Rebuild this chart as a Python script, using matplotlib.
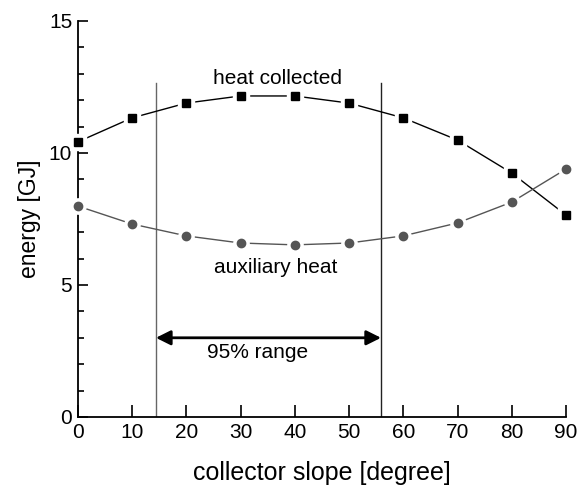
import matplotlib
matplotlib.use("Agg")
import matplotlib.pyplot as plt
from matplotlib.ticker import MultipleLocator

plt.rcParams['font.family'] = ['Liberation Sans', 'DejaVu Sans']

slope = [0, 10, 20, 30, 40, 50, 60, 70, 80, 90]
heat_collected = [10.42, 11.33, 11.89, 12.16, 12.16, 11.89, 11.33, 10.49, 9.24, 7.65]
auxiliary_heat = [7.99, 7.31, 6.86, 6.59, 6.52, 6.59, 6.86, 7.35, 8.14, 9.39]
range_lo, range_hi = 14.4, 55.9
range_top = 12.65
arrow_y = 3.0

fig = plt.figure(figsize=(5.85, 4.88), dpi=100)
ax = fig.add_axes([0.133, 0.1455, 0.8345, 0.8115])

# vertical range lines
ax.plot([range_lo, range_lo], [0, range_top], color='#666666', lw=1.0, zorder=1)
ax.plot([range_hi, range_hi], [0, range_top], color='#222222', lw=1.0, zorder=1)

# curves
ax.plot(slope, heat_collected, color='black', lw=1.0, zorder=2, clip_on=False)
ax.plot(slope, auxiliary_heat, color='#555555', lw=1.0, zorder=2, clip_on=False)
# gaps around markers
ax.plot(slope, heat_collected, ls='none', marker='s', ms=11, mfc='white', mec='white', zorder=3, clip_on=False)
ax.plot(slope, auxiliary_heat, ls='none', marker='o', ms=11, mfc='white', mec='white', zorder=3, clip_on=False)
ax.plot(slope, heat_collected, ls='none', marker='s', ms=5.5, mfc='black', mec='black', zorder=4, clip_on=False)
ax.plot(slope, auxiliary_heat, ls='none', marker='o', ms=6, mfc='#555555', mec='#555555', zorder=4, clip_on=False)

# arrow
ax.annotate('', xy=(range_hi, arrow_y), xytext=(range_lo, arrow_y),
            arrowprops=dict(arrowstyle='<|-|>', color='black', lw=2, mutation_scale=22,
                            shrinkA=0, shrinkB=0), zorder=5)

ax.text(36.9, 12.84, 'heat collected', ha='center', va='center', fontsize=15)
ax.text(36.5, 5.68, 'auxiliary heat', ha='center', va='center', fontsize=15)
ax.text(33.2, 2.46, '95% range', ha='center', va='center', fontsize=15)

ax.set_xlim(0, 90)
ax.set_ylim(0, 15)
ax.set_xticks(range(0, 91, 10))
ax.set_yticks([0, 5, 10, 15])
ax.yaxis.set_minor_locator(MultipleLocator(1))
ax.spines['top'].set_visible(False)
ax.spines['right'].set_visible(False)
for s in ('left', 'bottom'):
    ax.spines[s].set_linewidth(1.3)
ax.tick_params(axis='both', which='major', direction='in', length=7, width=1.2, labelsize=15, pad=4)
ax.tick_params(axis='y', which='minor', direction='in', length=4, width=1.2)
ax.tick_params(axis='x', which='major', length=9)

ax.set_xlabel('collector slope [degree]', fontsize=18, labelpad=14)
ax.set_ylabel('energy [GJ]', fontsize=16.5, labelpad=6)

fig.savefig('out.png', dpi=100)
